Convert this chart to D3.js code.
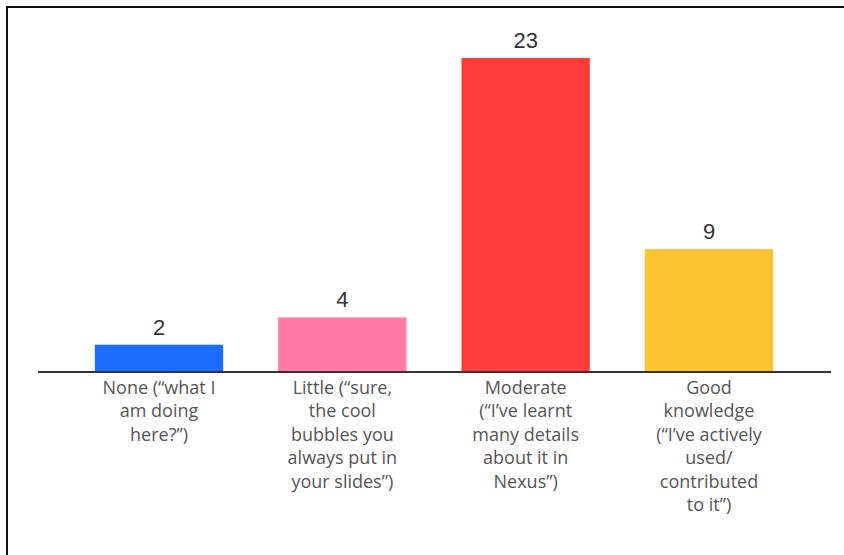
<!DOCTYPE html>
<html>
<head>
<meta charset="utf-8">
<script src="https://cdn.jsdelivr.net/npm/d3@7"></script>
<style>
  html, body { margin: 0; padding: 0; background: #fff; }
  svg { display: block; }
</style>
</head>
<body>
<svg id="chart" width="844" height="555"></svg>
<script>
// Survey answers: how well do people know the topic
const categories = ["None", "Little", "Moderate", "Good"];
const values = [2, 4, 23, 9];
const colors = ["#1b6cff", "#ff7aa6", "#ff3b3b", "#fdc232"];
const tickLabels = [
  ["None (\u201cwhat I", "am doing", "here?\u201d)"],
  ["Little (\u201csure,", "the cool", "bubbles you", "always put in", "your slides\u201d)"],
  ["Moderate", "(\u201cI\u2019ve learnt", "many details", "about it in", "Nexus\u201d)"],
  ["Good", "knowledge", "(\u201cI\u2019ve actively", "used/", "contributed", "to it\u201d)"]
];

const svg = d3.select("#chart");
const W = 844, H = 555;

// Frame edges along the top and left
svg.append("line").attr("x1", 6).attr("x2", W).attr("y1", 7).attr("y2", 7)
  .attr("stroke", "#111").attr("stroke-width", 2);
svg.append("line").attr("x1", 7).attr("x2", 7).attr("y1", 6).attr("y2", H)
  .attr("stroke", "#111").attr("stroke-width", 2);

const x = d3.scaleBand()
  .domain(categories)
  .range([38, 830])
  .paddingInner(0.30)
  .paddingOuter(0.31);

const y = d3.scaleLinear()
  .domain([0, 23])
  .range([372, 58]);

// Bars
svg.append("g").selectAll("rect")
  .data(values)
  .join("rect")
  .attr("x", (d, i) => x(categories[i]))
  .attr("width", x.bandwidth())
  .attr("y", d => y(d))
  .attr("height", d => y(0) - y(d))
  .attr("fill", (d, i) => colors[i]);

// Value labels above bars
svg.append("g").selectAll("text")
  .data(values)
  .join("text")
  .attr("x", (d, i) => x(categories[i]) + x.bandwidth() / 2)
  .attr("y", d => y(d) - 10)
  .attr("text-anchor", "middle")
  .attr("font-family", "'Liberation Sans', Arial, sans-serif")
  .attr("font-size", 22)
  .attr("fill", "#333")
  .text(d => d);

// Category axis
const axis = d3.axisBottom(x).tickSize(0).tickFormat("");
const gAxis = svg.append("g")
  .attr("transform", `translate(0,${y(0)})`)
  .call(axis);
gAxis.select(".domain")
  .attr("d", "M38,0H831")
  .attr("stroke", "#333")
  .attr("stroke-width", 2.2);

gAxis.selectAll(".tick").each(function (d, i) {
  const t = d3.select(this).append("text")
    .attr("text-anchor", "middle")
    .attr("font-family", "'Open Sans', 'Noto Sans', sans-serif")
    .attr("font-size", 18)
    .attr("fill", "#555");
  tickLabels[i].forEach((line, j) => {
    t.append("tspan")
      .attr("x", 0)
      .attr("y", 22 + j * 23.4)
      .text(line);
  });
});
</script>
</body>
</html>
